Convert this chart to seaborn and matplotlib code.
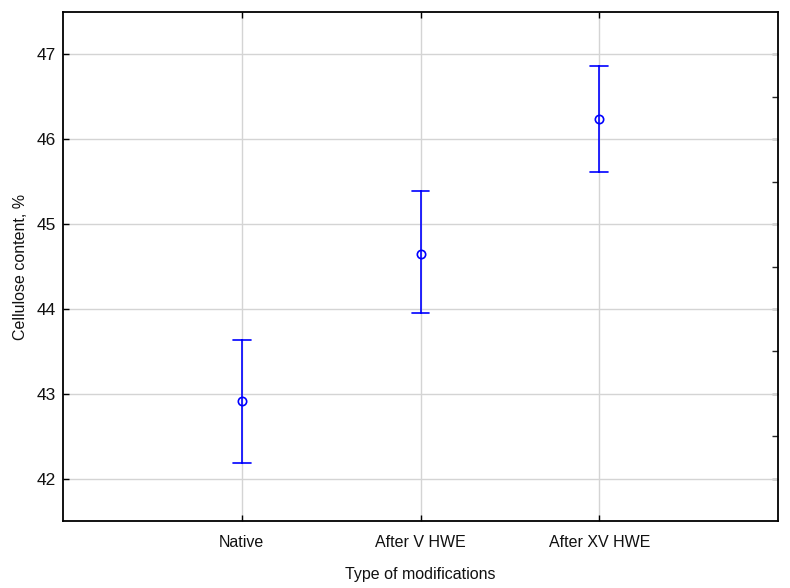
import matplotlib
matplotlib.use("Agg")
import matplotlib.pyplot as plt
import seaborn as sns
import pandas as pd
import numpy as np

categories = ["Native", "After V HWE", "After XV HWE"]
means = [42.91, 44.65, 46.24]
lower = [42.18, 43.95, 45.61]
upper = [43.63, 45.39, 46.86]

rows = []
for c, lo, m, hi in zip(categories, lower, means, upper):
    for v in (lo, m, hi):
        rows.append({"Type of modifications": c, "Cellulose content, %": v})
df = pd.DataFrame(rows)

sns.set_theme(style="white")
plt.rcParams['font.family'] = ['Liberation Sans', 'DejaVu Sans']

fig = plt.figure(figsize=(7.9, 5.88), dpi=100)
ax = fig.add_axes([63/790, 1 - 521/588, (778 - 63)/790, (521 - 12)/588])

blue = "#0000ff"
sns.pointplot(data=df, x="Type of modifications", y="Cellulose content, %",
              order=categories, estimator="median", errorbar=("pi", 100),
              linestyle="none", color=blue, capsize=0.1, markers="o",
              markerfacecolor="none", markeredgecolor=blue, markersize=6,
              markeredgewidth=1.2, err_kws={"linewidth": 1.2}, ax=ax)

ax.set_xlim(-1, 3)
ax.set_ylim(41.5, 47.5)
ax.set_yticks([42, 43, 44, 45, 46, 47])
ax.grid(True, color="#d4d4d4", linewidth=1.0)
ax.set_axisbelow(True)

for s in ax.spines.values():
    s.set_color("black")
    s.set_linewidth(1.3)
    s.set_visible(True)

ax.tick_params(axis="both", direction="in", length=4, width=1, colors="black",
               labelcolor="#111111")
ax.tick_params(axis="x", top=True, bottom=True, pad=10, labelsize=11.5)
ax.tick_params(axis="y", left=True, right=False, pad=5, labelsize=12.5)

# right-side ticks every 0.5
ax2 = ax.secondary_yaxis("right")
ax2.set_yticks(np.arange(42, 47.01, 0.5))
ax2.tick_params(direction="in", length=4, width=1, labelright=False)
ax2.spines["right"].set_visible(False)

ax.set_xlabel("Type of modifications", fontsize=11.5, labelpad=12, color="#111111")
ax.set_ylabel("Cellulose content, %", fontsize=11.5, labelpad=6, color="#111111")

fig.savefig("out.png", dpi=100)
